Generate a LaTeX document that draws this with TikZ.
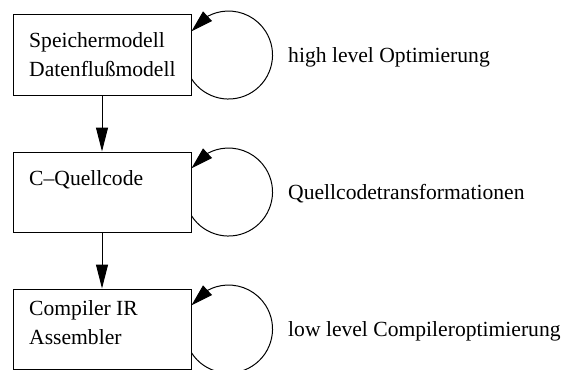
\documentclass[tikz,border=0pt]{standalone}
\usepackage{fontspec}
\setmainfont{Liberation Serif}
\usetikzlibrary{arrows.meta,bending}
\begin{document}
\begin{tikzpicture}[x=1pt,y=1pt,
  box/.style={draw,line width=1pt,minimum width=178pt,minimum height=80pt,inner sep=0pt},
  txt/.style={anchor=base west,inner sep=0pt,font=\fontsize{21.6}{26}\selectfont},
  arr/.style={line width=1pt,-{Triangle[length=24pt,width=12pt]}},
  loopy/.style={line width=1pt,-{Triangle[length=22pt,width=13pt,flex]}}]
\clip (0,0) rectangle (561,-369);
% boxes
\node[box] (b1) at (102,-55) {};
\node[box] (b2) at (102,-192) {};
\node[box] (b3) at (102,-329) {};
% box texts
\node[txt] (t1a) at (29,-48) {Speichermodell};
\node[txt] (t1b) at (29,-76) {Datenflußmodell};
\node[txt] (t2a) at (29,-185) {C--Quellcode};
\node[txt] (t3a) at (29,-315) {Compiler IR};
\node[txt] (t3b) at (29,-344) {Assembler};
% vertical arrows
\draw[arr] (b1) -- (b2);
\draw[arr] (b2) -- (b3);
% loops
\draw[loopy] ([yshift=-23.8pt]b1.east) arc[start angle=-147.3, end angle=147.3, radius=44pt];
\draw[loopy] ([yshift=-23.8pt]b2.east) arc[start angle=-147.3, end angle=147.3, radius=44pt];
\draw[loopy] ([yshift=-23.8pt]b3.east) arc[start angle=-147.3, end angle=147.3, radius=44pt];
% loop labels
\node[txt] (l1) at (288,-62) {high level Optimierung};
\node[txt] (l2) at (288,-199) {Quellcodetransformationen};
\node[txt] (l3) at (288,-336) {low level Compileroptimierung};
\end{tikzpicture}
\end{document}
